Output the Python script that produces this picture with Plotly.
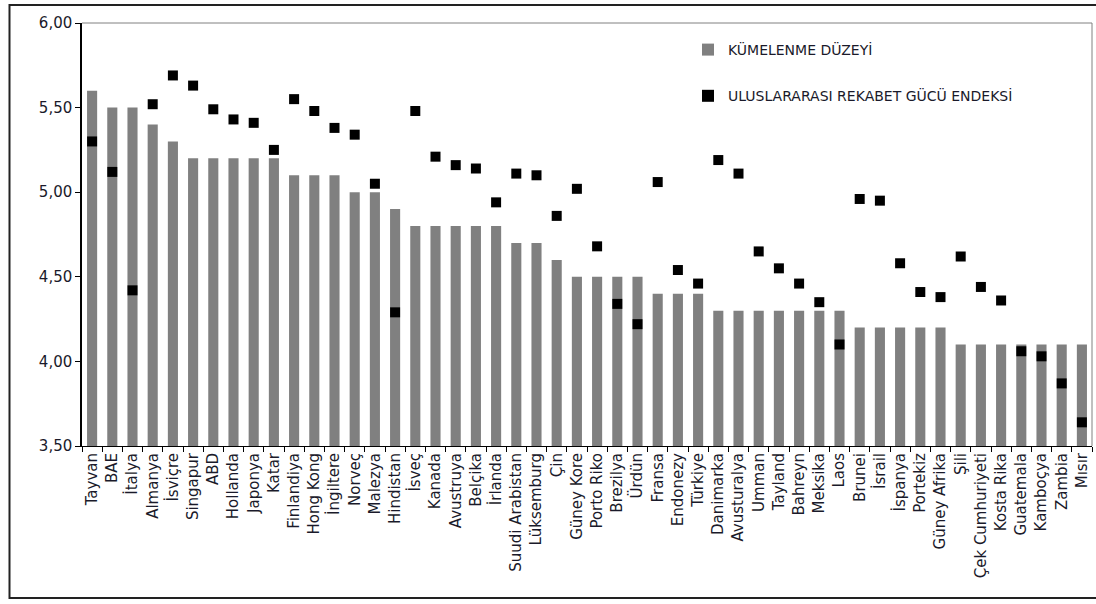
import plotly.graph_objects as go

countries = ["Tayvan", "BAE", "İtalya", "Almanya", "İsviçre", "Singapur", "ABD", "Hollanda", "Japonya", "Katar",
             "Finlandiya", "Hong Kong", "İngiltere", "Norveç", "Malezya", "Hindistan", "İsveç", "Kanada", "Avustruya", "Belçika",
             "İrlanda", "Suudi Arabistan", "Lüksemburg", "Çin", "Güney Kore", "Porto Riko", "Brezilya", "Ürdün", "Fransa", "Endonezy",
             "Türkiye", "Danimarka", "Avusturalya", "Umman", "Tayland", "Bahreyn", "Meksika", "Laos", "Brunei", "İsrail",
             "İspanya", "Portekiz", "Güney Afrika", "Şili", "Çek Cumhuriyeti", "Kosta Rika", "Guatemala", "Kamboçya", "Zambia", "Mısır"]

kumelenme = [5.6, 5.5, 5.5, 5.4, 5.3, 5.2, 5.2, 5.2, 5.2, 5.2,
             5.1, 5.1, 5.1, 5.0, 5.0, 4.9, 4.8, 4.8, 4.8, 4.8,
             4.8, 4.7, 4.7, 4.6, 4.5, 4.5, 4.5, 4.5, 4.4, 4.4,
             4.4, 4.3, 4.3, 4.3, 4.3, 4.3, 4.3, 4.3, 4.2, 4.2,
             4.2, 4.2, 4.2, 4.1, 4.1, 4.1, 4.1, 4.1, 4.1, 4.1]

rekabet = [5.30, 5.12, 4.42, 5.52, 5.69, 5.63, 5.49, 5.43, 5.41, 5.25,
           5.55, 5.48, 5.38, 5.34, 5.05, 4.29, 5.48, 5.21, 5.16, 5.14,
           4.94, 5.11, 5.10, 4.86, 5.02, 4.68, 4.34, 4.22, 5.06, 4.54,
           4.46, 5.19, 5.11, 4.65, 4.55, 4.46, 4.35, 4.10, 4.96, 4.95,
           4.58, 4.41, 4.38, 4.62, 4.44, 4.36, 4.06, 4.03, 3.87, 3.64]

y_ticks = [3.5, 4.0, 4.5, 5.0, 5.5, 6.0]

fig = go.Figure()
fig.add_trace(go.Bar(
    x=countries, y=kumelenme, name="KÜMELENME DÜZEYİ",
    marker=dict(color="#808080", line=dict(width=0)),
    legendgroup="a",
))
fig.add_trace(go.Scatter(
    x=countries, y=rekabet, name="ULUSLARARASI REKABET GÜCÜ ENDEKSİ",
    mode="markers", marker=dict(symbol="square", color="black", size=10),
    legendgroup="b",
))

L, R, T, B = 82, 4, 23, 158
W, H = 1096, 604
pw = W - L - R
ph = H - T - B

def px_x(p):
    return (p - L) / pw

def px_y(p):
    return (H - B - p) / ph

fig.update_layout(
    width=W, height=H,
    margin=dict(l=L, r=R, t=T, b=B),
    paper_bgcolor="white", plot_bgcolor="white",
    separators=",.",
    bargap=0.5,
    font=dict(family="DejaVu Sans, Liberation Sans, Arial, sans-serif", size=13, color="#1a1a2a"),
    showlegend=True,
    legend=dict(x=px_x(688), y=px_y(34), xanchor="left", yanchor="top",
                bgcolor="rgba(0,0,0,0)", font=dict(size=14, color="#1a1a2a"),
                tracegroupgap=25, itemsizing="constant"),
    xaxis=dict(
        type="category", tickangle=-90, tickson="boundaries",
        ticks="outside", ticklen=5, tickcolor="black",
        showline=True, linecolor="black", linewidth=1,
        showgrid=False, range=[-0.5, 49.5],
        tickfont=dict(size=15),
    ),
    yaxis=dict(
        range=[3.5, 6.0], tickvals=y_ticks, tickformat=".2f",
        ticks="outside", ticklen=5, tickcolor="black",
        showline=True, linecolor="black", linewidth=1.5,
        showgrid=False, zeroline=False,
        tickfont=dict(size=15),
    ),
    shapes=[
        dict(type="line", xref="paper", yref="paper", x0=0, x1=1, y0=1, y1=1,
             line=dict(color="#808080", width=1)),
        dict(type="line", xref="paper", yref="paper", x0=1, x1=1, y0=0, y1=1,
             line=dict(color="#808080", width=1)),
        dict(type="rect", xref="paper", yref="paper",
             x0=px_x(9.5), x1=px_x(1110), y0=px_y(598), y1=px_y(5),
             line=dict(color="#222222", width=2), layer="above"),
    ],
)

fig.write_html("out.html")
